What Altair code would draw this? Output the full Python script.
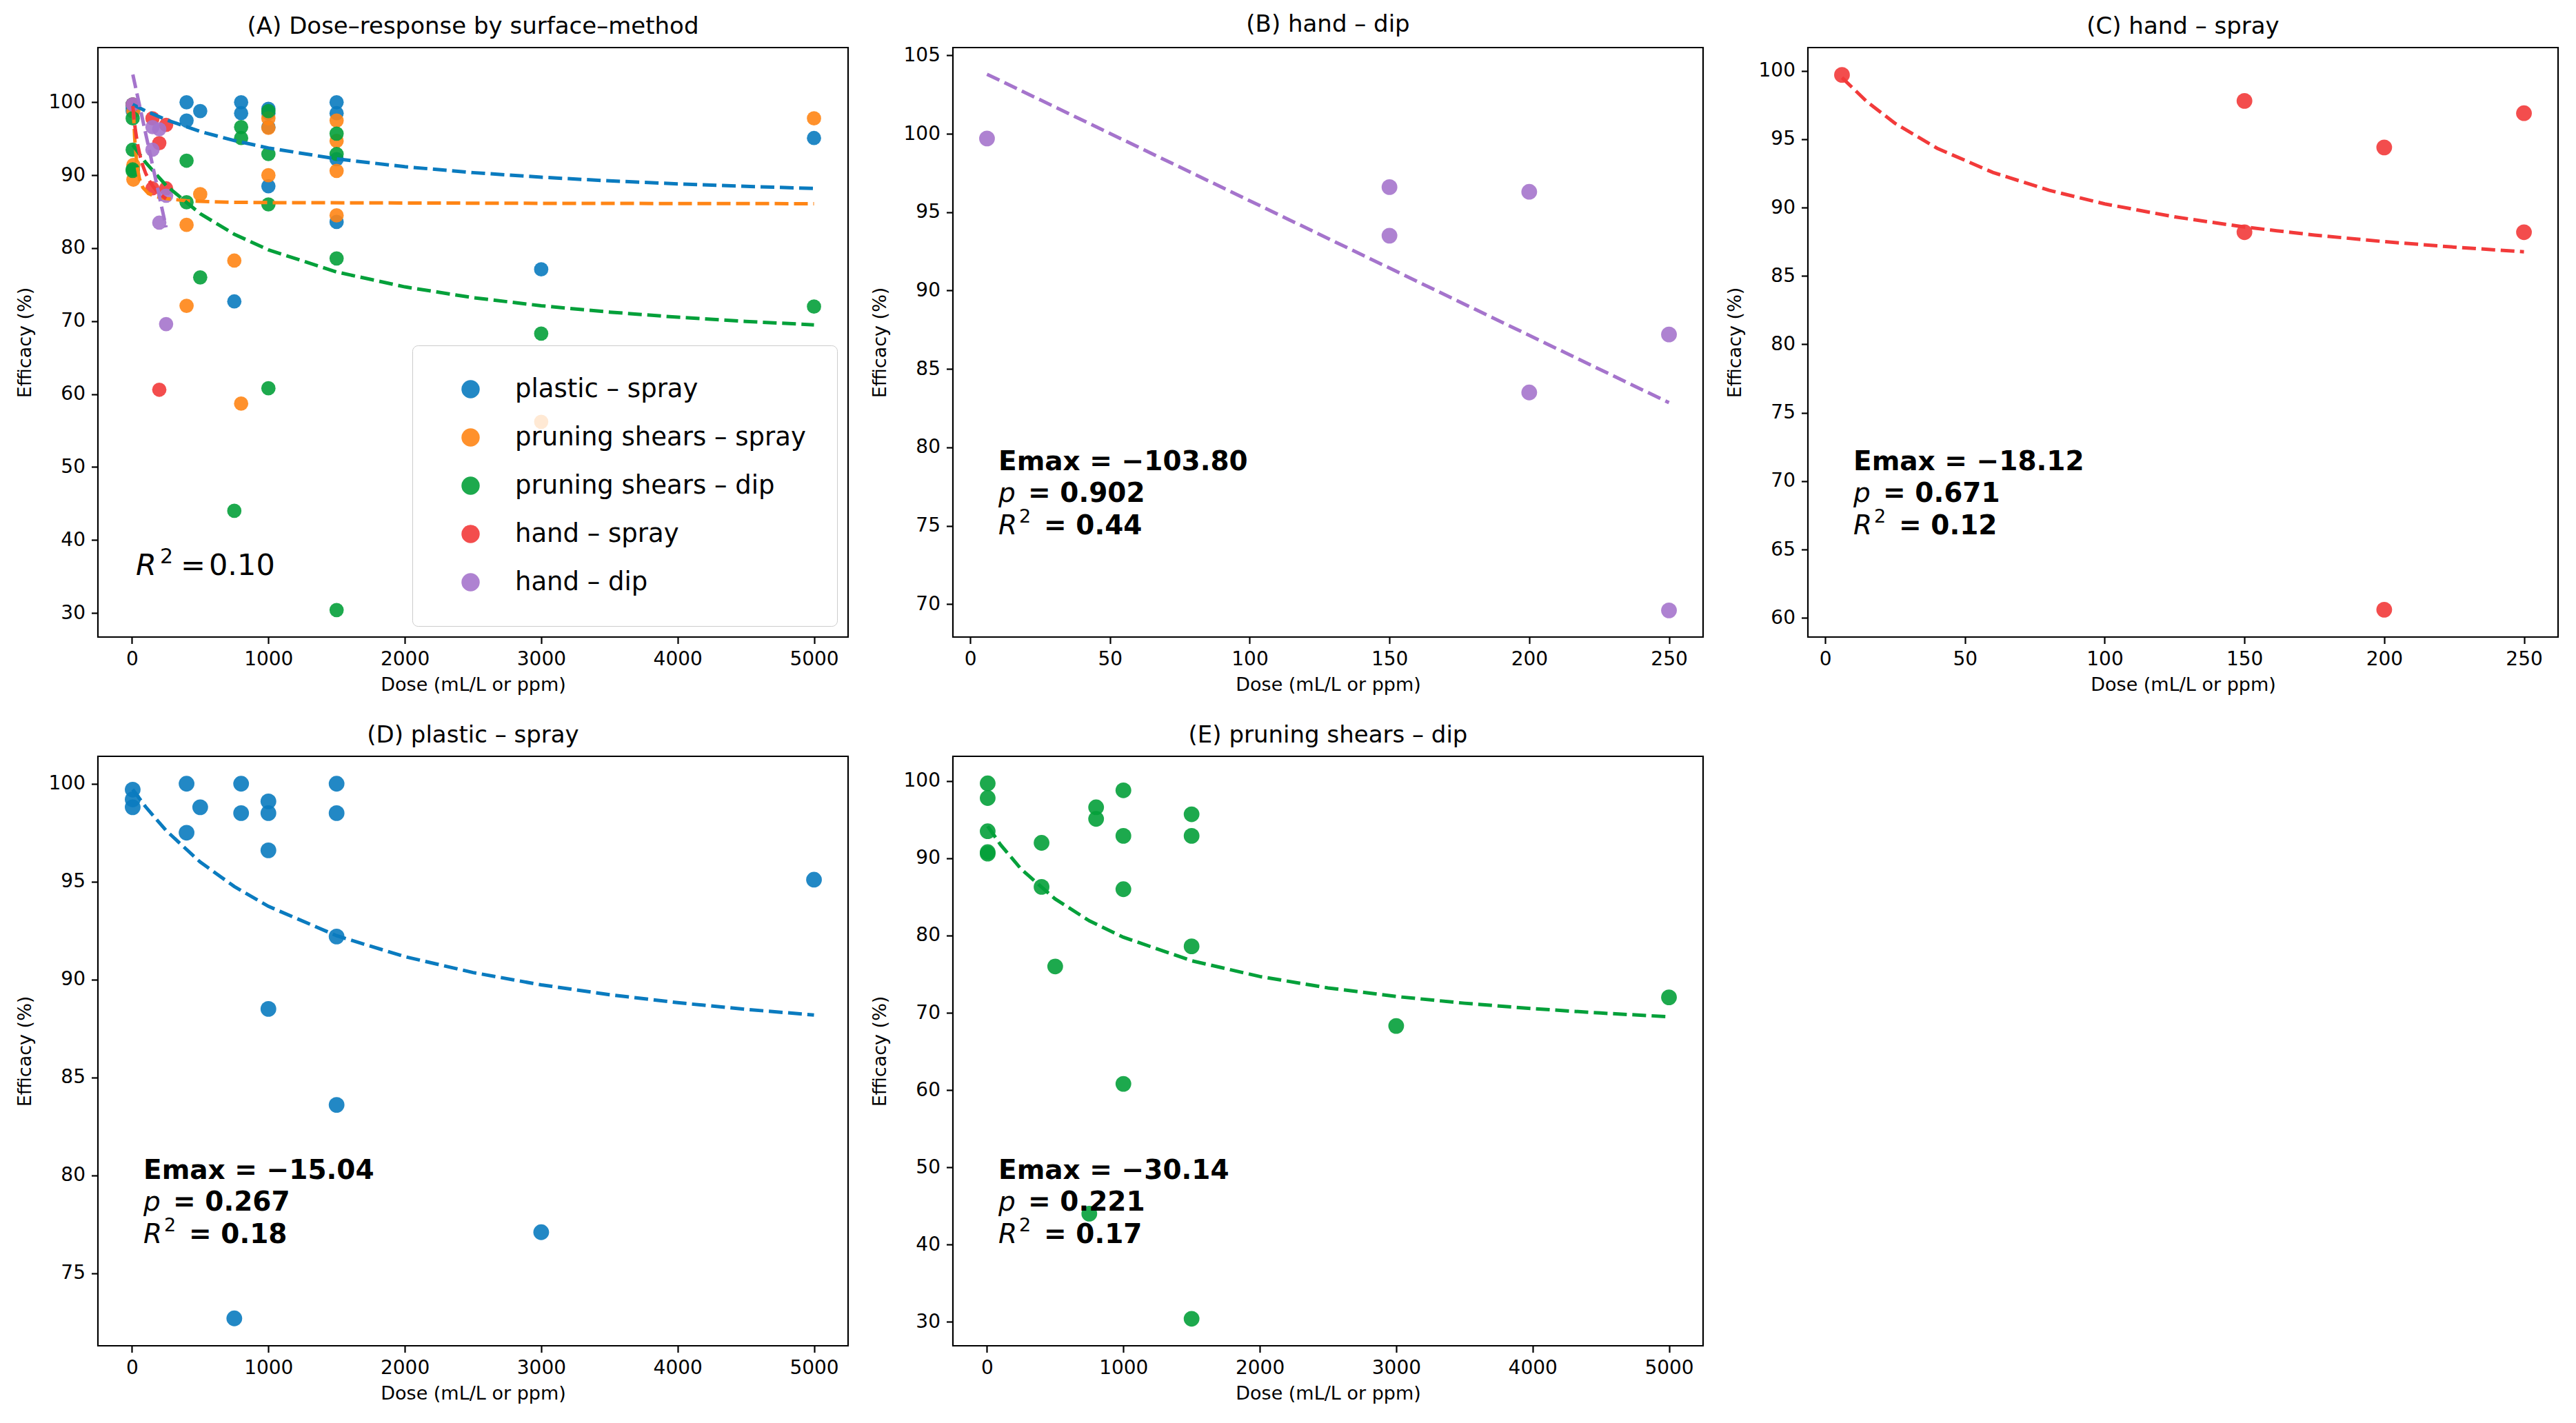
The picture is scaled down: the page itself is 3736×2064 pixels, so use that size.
"""
Dose-response of disinfectant efficacy by surface and application method:
all groups with their Emax fits (A) and one panel per fitted group (B-E).
"""

import altair as alt
import pandas as pd

FONT = "DejaVu Sans"
W = 1088
H = 855

groups = ["plastic – spray", "pruning shears – spray", "pruning shears – dip",
          "hand – spray", "hand – dip"]
group_colors = ["#0A7BBF", "#FF8515", "#04A03A", "#F23A3A", "#A574CC"]

# observed efficacy (%) against dose (mL/L or ppm)
plastic_spray_dose = [5, 5, 5, 400, 400, 500, 750, 800, 800, 1000, 1000, 1000, 1000,
                      1500, 1500, 1500, 1500, 3000, 5000]
plastic_spray_eff = [99.7, 99.2, 98.8, 100.0, 97.5, 98.8, 72.7, 100.0, 98.5, 99.1, 98.5, 96.6, 88.5,
                     100.0, 98.5, 92.2, 83.6, 77.1, 95.1]

shears_spray_dose = [10, 10, 10, 400, 400, 500, 750, 800, 1000, 1000, 1000,
                     1500, 1500, 1500, 1500, 3000, 5000]
shears_spray_eff = [98.8, 91.4, 89.4, 83.2, 72.1, 87.4, 78.3, 58.7, 97.8, 96.5, 90.0,
                    97.5, 94.7, 90.6, 84.5, 56.2, 97.8]

shears_dip_dose = [5, 5, 5, 5, 5, 400, 400, 500, 750, 800, 800, 1000, 1000, 1000, 1000,
                   1500, 1500, 1500, 1500, 3000, 5000]
shears_dip_eff = [99.7, 97.8, 93.5, 90.8, 90.6, 92.0, 86.3, 76.0, 44.0, 96.6, 95.1, 98.8, 92.9, 86.0, 60.8,
                  95.7, 92.9, 78.6, 30.4, 68.3, 72.0]

hand_spray_dose = [6, 150, 150, 200, 200, 250, 250]
hand_spray_eff = [99.7, 97.8, 88.2, 94.4, 60.6, 96.9, 88.2]

hand_dip_dose = [6, 150, 150, 200, 200, 250, 250]
hand_dip_eff = [99.7, 96.6, 93.5, 96.3, 83.5, 87.2, 69.6]

# fitted curves
plastic_spray_fit_dose = [5, 100, 250, 500, 750, 1000, 1500, 2000, 2500, 3000, 3500, 4000, 4500, 5000]
plastic_spray_fit_eff = [99.71, 98.82, 97.61, 96.0, 94.75, 93.74, 92.24, 91.17, 90.36, 89.73,
                         89.23, 88.82, 88.48, 88.19]

shears_spray_fit_dose = [10, 20, 35, 55, 80, 120, 170, 250, 400, 700, 1000, 2000, 3000, 5000]
shears_spray_fit_eff = [99.0, 95.0, 91.5, 89.5, 88.3, 87.5, 87.1, 86.8, 86.5, 86.3, 86.25, 86.2, 86.15, 86.1]

shears_dip_fit_dose = [5, 100, 250, 500, 750, 1000, 1500, 2000, 2500, 3000, 3500, 4000, 4500, 5000]
shears_dip_fit_eff = [94.16, 91.74, 88.61, 84.73, 81.91, 79.78, 76.74, 74.7, 73.22, 72.11,
                      71.24, 70.54, 69.97, 69.49]

hand_spray_fit_dose = [6, 15, 25, 40, 60, 80, 100, 125, 150, 175, 200, 225, 250]
hand_spray_fit_eff = [99.5, 97.73, 96.16, 94.34, 92.57, 91.27, 90.27, 89.32, 88.58, 87.99, 87.51, 87.11, 86.77]

hand_dip_fit_dose = [6, 250]
hand_dip_fit_eff = [103.8, 82.85]

# fit statistics per panel: (B) (C) (D) (E)
stat_emax = ["−103.80", "−18.12", "−15.04", "−30.14"]
stat_p = ["0.902", "0.671", "0.267", "0.221"]
stat_r2 = ["0.44", "0.12", "0.18", "0.17"]
overall_r2 = "0.10"


def frame(dose, eff, group):
    return pd.DataFrame({"dose": dose, "eff": eff, "group": group})


points = {
    groups[0]: frame(plastic_spray_dose, plastic_spray_eff, groups[0]),
    groups[1]: frame(shears_spray_dose, shears_spray_eff, groups[1]),
    groups[2]: frame(shears_dip_dose, shears_dip_eff, groups[2]),
    groups[3]: frame(hand_spray_dose, hand_spray_eff, groups[3]),
    groups[4]: frame(hand_dip_dose, hand_dip_eff, groups[4]),
}
fits = {
    groups[0]: frame(plastic_spray_fit_dose, plastic_spray_fit_eff, groups[0]),
    groups[1]: frame(shears_spray_fit_dose, shears_spray_fit_eff, groups[1]),
    groups[2]: frame(shears_dip_fit_dose, shears_dip_fit_eff, groups[2]),
    groups[3]: frame(hand_spray_fit_dose, hand_spray_fit_eff, groups[3]),
    groups[4]: frame(hand_dip_fit_dose, hand_dip_fit_eff, groups[4]),
}


def axes(x_domain, x_ticks, y_domain, y_ticks):
    x = alt.X("dose:Q", title="Dose (mL/L or ppm)",
              scale=alt.Scale(domain=x_domain, nice=False, zero=False),
              axis=alt.Axis(values=x_ticks, format="d"))
    y = alt.Y("eff:Q", title="Efficacy (%)",
              scale=alt.Scale(domain=y_domain, nice=False, zero=False),
              axis=alt.Axis(values=y_ticks, format="d"))
    return x, y


def label(text, x, y, size=39, weight="bold", style="normal"):
    return alt.Chart(pd.DataFrame({"t": [text]})).mark_text(
        align="left", baseline="middle", font=FONT, fontSize=size,
        fontWeight=weight, fontStyle=style, color="black"
    ).encode(x=alt.value(x), y=alt.value(y), text="t:N")


def stats_block(i):
    return [
        label("Emax = " + stat_emax[i], 66, 601),
        label("p", 66, 647, weight="normal", style="italic"),
        label("= " + stat_p[i], 109, 647),
        label("R", 66, 694, weight="normal", style="italic"),
        label("2", 96, 681, size=27, weight="normal"),
        label("= " + stat_r2[i], 132, 694),
    ]


color_scale = alt.Scale(domain=groups, range=group_colors)

# (A) all groups together
xa, ya = axes([-250, 5250], [0, 1000, 2000, 3000, 4000, 5000], [26.7, 107.5], list(range(30, 101, 10)))
all_points = pd.concat(points.values(), ignore_index=True)
all_fits = pd.concat(fits.values(), ignore_index=True)

pts_a = alt.Chart(all_points).mark_circle(size=430, opacity=0.9).encode(
    x=xa, y=ya,
    color=alt.Color("group:N", scale=color_scale, sort=groups, legend=alt.Legend(
        title=None, orient="none", legendX=456, legendY=432,
        labelFont=FONT, labelFontSize=37, labelColor="black", labelLimit=0, labelOffset=46,
        symbolType="circle", symbolSize=700, symbolStrokeWidth=0, symbolOpacity=0.9,
        symbolOffset=21, rowPadding=32, padding=45,
        fillColor="rgba(255,255,255,0.8)", strokeColor="#cccccc", cornerRadius=8)),
)
lines_a = alt.Chart(all_fits).mark_line(strokeDash=[20, 8], strokeWidth=5).encode(
    x=xa, y=ya,
    color=alt.Color("group:N", scale=color_scale, legend=None),
    detail="group:N",
)
panel_a = alt.layer(
    pts_a, lines_a,
    label("R", 55, 752, size=43, weight="normal", style="italic"),
    label("2", 90, 739, size=30, weight="normal"),
    label("=", 120, 752, size=43, weight="normal"),
    label(overall_r2, 161, 752, size=43, weight="normal"),
).properties(width=W, height=H, title="(A) Dose–response by surface–method")


def single(title, group, i, x_domain, x_ticks, y_domain, y_ticks):
    x, y = axes(x_domain, x_ticks, y_domain, y_ticks)
    col = group_colors[groups.index(group)]
    pts = alt.Chart(points[group]).mark_circle(size=520, opacity=0.9, color=col).encode(x=x, y=y)
    line = alt.Chart(fits[group]).mark_line(strokeDash=[20, 8], strokeWidth=5, color=col).encode(x=x, y=y)
    return alt.layer(pts, line, *stats_block(i)).properties(width=W, height=H, title=title)


hand_ticks = [0, 50, 100, 150, 200, 250]
dose_ticks = [0, 1000, 2000, 3000, 4000, 5000]
panel_b = single("(B) hand – dip", groups[4], 0, [-6.2, 262.2], hand_ticks,
                 [67.9, 105.5], list(range(70, 106, 5)))
panel_c = single("(C) hand – spray", groups[3], 1, [-6.2, 262.2], hand_ticks,
                 [58.6, 101.7], list(range(60, 101, 5)))
panel_d = single("(D) plastic – spray", groups[0], 2, [-250, 5250], dose_ticks,
                 [71.3, 101.4], list(range(75, 101, 5)))
panel_e = single("(E) pruning shears – dip", groups[2], 3, [-250, 5250], dose_ticks,
                 [26.9, 103.2], list(range(30, 101, 10)))

top = alt.hconcat(panel_a, panel_b, panel_c, spacing=28).resolve_scale(color="independent").resolve_legend(color="independent")
bottom = alt.hconcat(panel_d, panel_e, spacing=28)

chart = alt.vconcat(top, bottom, spacing=40).resolve_scale(
    color="independent"
).resolve_legend(
    color="independent"
).properties(
    padding={"left": 12, "top": 10, "right": 5, "bottom": 5}
).configure_view(
    stroke="black", strokeWidth=2.2
).configure_axis(
    domain=False, grid=False,
    labelFont=FONT, labelFontSize=28, labelColor="black", labelPadding=9,
    tickColor="black", tickWidth=2.2, tickSize=9.5,
    titleFont=FONT, titleFontSize=27, titleFontWeight="normal", titleColor="black",
).configure_axisY(
    titlePadding=20
).configure_axisX(
    titlePadding=10
).configure_title(
    font=FONT, fontSize=34, fontWeight="normal", color="black",
    anchor="middle", frame="group", offset=13
)

chart.save("out.html", embed_options={"renderer": "svg", "actions": False})
